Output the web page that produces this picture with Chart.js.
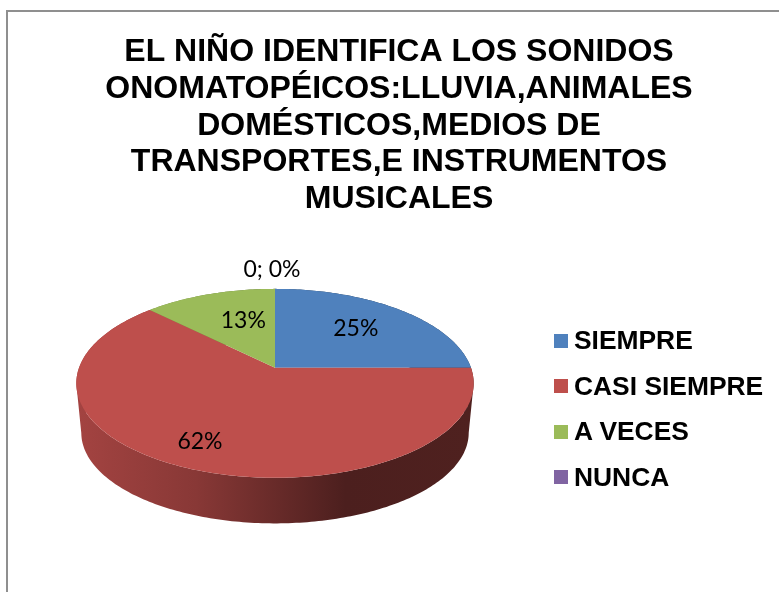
<!DOCTYPE html>
<html lang="es">
<head>
<meta charset="utf-8">
<title>Sonidos onomatopéicos</title>
<script src="https://cdn.jsdelivr.net/npm/chart.js@4"></script>
<style>
  html, body { margin: 0; padding: 0; background: #fff; overflow: hidden; width: 779px; height: 592px; }
  #frame { position: absolute; left: 6px; top: 10px; width: 773px; height: 582px; border-left: 2px solid #8f8f8f; border-top: 2px solid #8f8f8f; box-sizing: border-box; }
  #chart { position: absolute; left: 0; top: 0; }
  #legend { position: absolute; left: 554px; top: 318px; font: bold 26.4px "Liberation Sans", Arial, sans-serif; color: #000; }
  #legend div { display: flex; align-items: center; height: 45.5px; white-space: nowrap; }
  #legend i { display: block; width: 14px; height: 14px; margin-right: 6px; }
</style>
</head>
<body>
<div id="frame"></div>
<canvas id="chart" width="798" height="592"></canvas>
<div id="legend"></div>
<script>
// --- datos ---
const titleLines = [
  'EL NIÑO IDENTIFICA LOS SONIDOS',
  'ONOMATOPÉICOS:LLUVIA,ANIMALES',
  'DOMÉSTICOS,MEDIOS DE',
  'TRANSPORTES,E INSTRUMENTOS',
  'MUSICALES'
];
const categories = ['SIEMPRE', 'CASI SIEMPRE', 'A VECES', 'NUNCA'];
const values = [25, 62.4, 12.6, 0];
const colors = ['#4F81BD', '#BE4F4C', '#9BBB59', '#8064A2'];

// oscurece un color hex por un factor
function shade(hex, f) {
  const n = parseInt(hex.slice(1), 16);
  return `rgb(${(n >> 16) * f | 0},${((n >> 8) & 255) * f | 0},${(n & 255) * f | 0})`;
}

// tarta en "3D": los ángulos salen de los arcos de Chart.js, aquí solo se proyectan
const pie3d = {
  id: 'pie3d',
  beforeDatasetsDraw(chart, args, opts) {
    const { ctx } = chart;
    const arcs = chart.getDatasetMeta(0).data;
    const cx = arc => arc.x + opts.shiftX;
    const cy = arc => arc.y + opts.shiftY;
    const project = (arc, a, f = 1) => {
      const x = Math.cos(a) * f, up = -Math.sin(a) * f;
      const den = 1 + opts.tilt * up;
      return [cx(arc) + arc.outerRadius * x / den, cy(arc) - arc.outerRadius * opts.squash * up / den];
    };
    // punto del borde inferior
    const lower = (arc, p) => [
      cx(arc) + (p[0] - cx(arc)) * opts.baseX,
      cy(arc) + (p[1] - cy(arc)) * opts.baseY + opts.depth
    ];
    const samples = arc => {
      const list = [];
      const n = Math.max(2, Math.ceil((arc.endAngle - arc.startAngle) * 60));
      for (let i = 0; i <= n; i++) list.push(arc.startAngle + (arc.endAngle - arc.startAngle) * i / n);
      return list;
    };

    // pared lateral
    arcs.forEach((arc, i) => {
      if (arc.endAngle - arc.startAngle <= 0) return;
      const left = cx(arc) - arc.outerRadius, w = arc.outerRadius * 2;
      const grad = ctx.createLinearGradient(left, 0, left + w, 0);
      grad.addColorStop(0, shade(colors[i], 0.86));
      grad.addColorStop(0.3, shade(colors[i], 0.72));
      grad.addColorStop(0.68, shade(colors[i], 0.4));
      grad.addColorStop(1, shade(colors[i], 0.42));
      const top = samples(arc).map(a => project(arc, a));
      ctx.fillStyle = grad;
      ctx.beginPath();
      for (let k = 1; k < top.length; k++) {
        let a = top[k - 1], b = top[k];
        if (a[0] > b[0]) [a, b] = [b, a]; // misma orientación en todos los tramos
        const c = lower(arc, b), d = lower(arc, a);
        ctx.moveTo(a[0], a[1]);
        ctx.lineTo(b[0], b[1]);
        ctx.lineTo(c[0], c[1]);
        ctx.lineTo(d[0], d[1]);
        ctx.closePath();
      }
      ctx.fill();
    });

    // cara superior
    arcs.forEach((arc, i) => {
      if (arc.endAngle - arc.startAngle <= 0) return;
      ctx.beginPath();
      ctx.moveTo(cx(arc), cy(arc));
      samples(arc).forEach(a => { const p = project(arc, a); ctx.lineTo(p[0], p[1]); });
      ctx.closePath();
      ctx.fillStyle = colors[i];
      ctx.fill();
    });

    // etiquetas
    const total = values.reduce((a, b) => a + b, 0);
    ctx.font = opts.labelFont;
    ctx.fillStyle = '#000';
    ctx.textAlign = 'center';
    ctx.textBaseline = 'middle';
    arcs.forEach((arc, i) => {
      const pct = Math.round(values[i] / total * 100);
      const text = values[i] === 0 ? `${values[i]}; ${pct}%` : `${pct}%`;
      const mid = (arc.startAngle + arc.endAngle) / 2;
      const p = project(arc, mid, opts.labelRadius[i]);
      ctx.fillText(text, p[0] + opts.labelNudge[i][0], p[1] + opts.labelNudge[i][1]);
    });
    return false;
  }
};

const chart = new Chart(document.getElementById('chart'), {
  type: 'pie',
  data: {
    labels: categories,
    datasets: [{ data: values, backgroundColor: colors, borderWidth: 0, radius: 196 }]
  },
  options: {
    responsive: false,
    animation: false,
    plugins: {
      legend: { display: false },
      tooltip: { enabled: false },
      title: {
        display: true,
        text: titleLines,
        color: '#000',
        font: { family: '"Liberation Sans", Arial, sans-serif', weight: 'bold', size: 32, lineHeight: 1.148 },
        padding: { top: 34, bottom: 0 }
      },
      pie3d: {
        shiftX: -124,
        shiftY: -37,
        tilt: 0.164,
        squash: 0.469,
        baseX: 0.975,
        baseY: 0.96,
        depth: 50,
        labelFont: '23px Lato, sans-serif',
        labelRadius: [0.65, 0.74, 0.65, 1.3],
        labelNudge: [[-3, 0], [-13, 3], [13, 3], [-3, 0]]
      }
    }
  },
  plugins: [pie3d]
});

// leyenda en HTML, con los items que genera Chart.js
const items = Chart.overrides.pie.plugins.legend.labels.generateLabels(chart);
document.getElementById('legend').innerHTML = items
  .map(it => `<div><i style="background:${it.fillStyle}"></i>${it.text}</div>`)
  .join('');
</script>
</body>
</html>
